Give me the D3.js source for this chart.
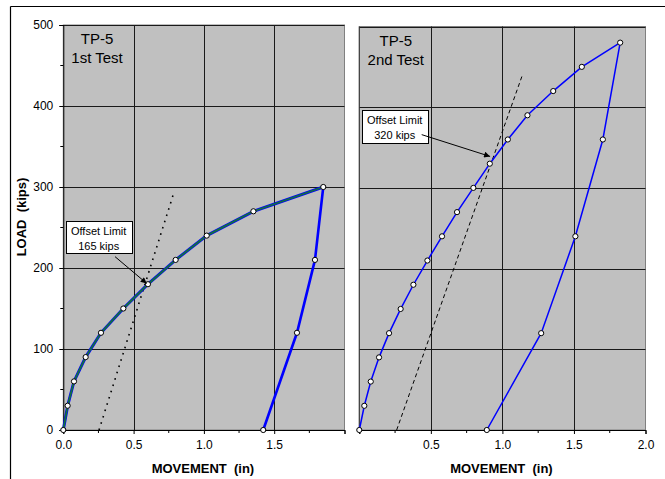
<!DOCTYPE html>
<html><head><meta charset="utf-8">
<script src="https://cdn.jsdelivr.net/npm/d3@7"></script>
<style>
html,body{margin:0;padding:0;background:#fff;}
svg{display:block;font-family:"Liberation Sans",Arial,sans-serif;}
</style></head>
<body>
<svg id="c" width="665" height="479"></svg>
<script>
// ---- data ----
const xTickValues = [0, 0.5, 1.0, 1.5, 2.0];
const xMinorTicks = [0.25, 0.75, 1.25, 1.75];
const yTickValues = [0, 100, 200, 300, 400, 500];
const yMinorTicks = [50, 150, 250, 350, 450];
const leftXTickLabels = ["0.0", "0.5", "1.0", "1.5", ""];
const rightXTickLabels = ["", "0.5", "1.0", "1.5", "2.0"];

const test1LoadKips = [0, 30, 60, 90, 120, 150, 180, 210, 240, 270, 300];
const test1MoveIn   = [0, 0.031, 0.076, 0.159, 0.268, 0.427, 0.602, 0.799, 1.02, 1.352, 1.849];
const test1UnloadKips = [300, 210, 120, 0];
const test1UnloadIn   = [1.849, 1.79, 1.662, 1.422];
const test1OffsetIn   = [0.254, 0.79];
const test1OffsetKips = [0, 295];

const test2LoadKips = [0, 30, 60, 90, 120, 150, 180, 210, 240, 270, 300, 330, 360, 390, 420, 450, 480];
const test2MoveIn   = [0, 0.035, 0.08, 0.138, 0.208, 0.289, 0.378, 0.476, 0.578, 0.683, 0.797, 0.912, 1.038, 1.175, 1.355, 1.555, 1.823];
const test2UnloadKips = [480, 360, 240, 120, 0];
const test2UnloadIn   = [1.823, 1.702, 1.51, 1.271, 0.891];
const test2OffsetIn   = [0.261, 1.14];
const test2OffsetKips = [0, 440];

const panelTitles = [["TP-5", "1st Test"], ["TP-5", "2nd Test"]];
const offsetNotes = [["Offset Limit", "165 kips"], ["Offset Limit", "320 kips"]];

// ---- drawing ----
const svg = d3.select("#c");
const zip = (xs, ys) => xs.map((x, i) => [x, ys[i]]);

// outer frame (top and left edges visible)
svg.append("line").attr("x1", 10.5).attr("x2", 665).attr("y1", 6.5).attr("y2", 6.5).attr("stroke", "#000").attr("stroke-width", 1.2);
svg.append("line").attr("x1", 10.5).attr("x2", 10.5).attr("y1", 6.5).attr("y2", 479).attr("stroke", "#000").attr("stroke-width", 1.2);

const panels = [
  { x: d3.scaleLinear([0, 2], [63.3, 344.5]), y: d3.scaleLinear([0, 500], [430, 25]),
    load: zip(test1MoveIn, test1LoadKips), unload: zip(test1UnloadIn, test1UnloadKips),
    offset: zip(test1OffsetIn, test1OffsetKips), xLabels: leftXTickLabels, yLabels: true,
    title: panelTitles[0], note: offsetNotes[0], box: [0.017, 0.486, 257.5, 218],
    arrow: [[0.368, 214], [0.593, 181]], dash: "1.6,5", green: true, cx: 0.24 },
  { x: d3.scaleLinear([0, 2], [359.3, 645.5]), y: d3.scaleLinear([0, 500], [430, 26.5]),
    load: zip(test2MoveIn, test2LoadKips), unload: zip(test2UnloadIn, test2UnloadKips),
    offset: zip(test2OffsetIn, test2OffsetKips), xLabels: rightXTickLabels, yLabels: false,
    title: panelTitles[1], note: offsetNotes[1], box: [0.017, 0.478, 396.5, 356],
    arrow: [[0.436, 366], [0.914, 339]], dash: "4,3", green: false, cx: 0.255 }
];

const defs = svg.append("defs");
defs.append("marker").attr("id", "ah").attr("viewBox", "0 0 10 10").attr("refX", 10).attr("refY", 5)
  .attr("markerWidth", 7).attr("markerHeight", 6).attr("orient", "auto").attr("markerUnits", "userSpaceOnUse")
  .append("path").attr("d", "M0,0 L10,5 L0,10 z").attr("fill", "#000");

panels.forEach((p, pi) => {
  const g = svg.append("g");
  const [x0, x1] = p.x.range();
  const [yb, yt] = p.y.range();
  g.append("rect").attr("x", x0).attr("y", yt).attr("width", x1 - x0).attr("height", yb - yt)
    .attr("fill", "#c0c0c0").attr("stroke", "#808080").attr("stroke-width", 1);

  // grid
  g.selectAll(".gx").data(xTickValues.slice(1, -1)).join("line")
    .attr("x1", d => Math.round(p.x(d)) + 0.5).attr("x2", d => Math.round(p.x(d)) + 0.5)
    .attr("y1", yt).attr("y2", yb).attr("stroke", "#1a1a1a").attr("stroke-width", 1);
  g.selectAll(".gy").data(yTickValues.slice(1)).join("line")
    .attr("y1", d => Math.round(p.y(d)) + 0.5).attr("y2", d => Math.round(p.y(d)) + 0.5)
    .attr("x1", x0).attr("x2", x1).attr("stroke", "#1a1a1a").attr("stroke-width", 1);

  // x axis
  const xa = d3.axisBottom(p.x).tickValues(xTickValues).tickSize(4).tickPadding(6)
    .tickFormat((d, i) => p.xLabels[i]);
  const xg = g.append("g").attr("transform", `translate(0,${yb})`).call(xa);
  xg.select(".domain").attr("stroke", "#000");
  xg.selectAll("text").attr("font-size", 12).attr("fill", "#000").attr("font-family", "Liberation Sans, Arial, sans-serif");
  g.selectAll(".mx").data(xMinorTicks).join("line")
    .attr("x1", d => p.x(d)).attr("x2", d => p.x(d)).attr("y1", yb).attr("y2", yb + 3).attr("stroke", "#000");

  if (p.yLabels) {
    const ya = d3.axisLeft(p.y).tickValues(yTickValues).tickSize(4).tickPadding(6).tickFormat(d3.format("d"));
    const yg = g.append("g").attr("transform", `translate(${x0},0)`).call(ya);
    yg.select(".domain").attr("stroke", "#000");
    yg.selectAll("text").attr("font-size", 12).attr("fill", "#000").attr("font-family", "Liberation Sans, Arial, sans-serif");
    g.selectAll(".my").data(yMinorTicks).join("line")
      .attr("y1", d => p.y(d)).attr("y2", d => p.y(d)).attr("x1", x0 - 3).attr("x2", x0).attr("stroke", "#000");
  } else {
    g.append("line").attr("x1", x0).attr("x2", x0).attr("y1", yt).attr("y2", yb).attr("stroke", "#333");
  }

  // x axis title
  g.append("text").attr("x", (x0 + x1) / 2 - 1).attr("y", 473).attr("text-anchor", "middle")
    .attr("font-size", 13).attr("font-weight", "bold").style("white-space", "pre").text("MOVEMENT  (in)");

  // panel title
  g.selectAll(".tt").data(p.title).join("text")
    .attr("x", p.x(p.cx)).attr("y", (d, i) => yt + 19 + i * 19).attr("text-anchor", "middle")
    .attr("font-size", 15).attr("fill", "#000").text(d => d);

  // offset line
  const line = d3.line().x(d => p.x(d[0])).y(d => p.y(d[1]));
  g.append("path").attr("d", line(p.offset)).attr("fill", "none").attr("stroke", "#000")
    .attr("stroke-width", p.green ? 1.6 : 1).attr("stroke-dasharray", p.dash);

  // load curve
  if (p.green) {
    g.append("path").attr("d", line(p.unload)).attr("fill", "none").attr("stroke", "#0000ff").attr("stroke-width", 2.6);
    g.append("path").attr("d", line(p.load)).attr("fill", "none").attr("stroke", "#0000ff").attr("stroke-width", 3);
    g.append("path").attr("d", line(p.load)).attr("fill", "none").attr("stroke", "#107040").attr("stroke-width", 1.8);
  } else {
    g.append("path").attr("d", line(p.load)).attr("fill", "none").attr("stroke", "#0000ff").attr("stroke-width", 1.5);
    g.append("path").attr("d", line(p.unload)).attr("fill", "none").attr("stroke", "#0000ff").attr("stroke-width", 1.5);
  }
  const pts = p.load.concat(p.unload.slice(1));
  g.selectAll(".pt").data(pts).join("circle")
    .attr("cx", d => p.x(d[0])).attr("cy", d => p.y(d[1])).attr("r", 2.6)
    .attr("fill", "#fff").attr("stroke", "#000").attr("stroke-width", 1);

  // annotation box
  const [bx0, bx1, by0, by1] = p.box;
  g.append("rect").attr("x", Math.round(p.x(bx0)) + 0.5).attr("y", Math.round(p.y(by0)) + 0.5)
    .attr("width", Math.round(p.x(bx1) - p.x(bx0))).attr("height", Math.round(p.y(by1) - p.y(by0)))
    .attr("fill", "#fff").attr("stroke", "#000").attr("stroke-width", 1);
  g.selectAll(".nt").data(p.note).join("text")
    .attr("x", (p.x(bx0) + p.x(bx1)) / 2).attr("y", (d, i) => p.y(by0) + 14 + i * 15)
    .attr("text-anchor", "middle").attr("font-size", 11).attr("fill", "#000").text(d => d);
  g.append("line").attr("x1", p.x(p.arrow[0][0])).attr("y1", p.y(p.arrow[0][1]))
    .attr("x2", p.x(p.arrow[1][0])).attr("y2", p.y(p.arrow[1][1]))
    .attr("stroke", "#000").attr("stroke-width", 1).attr("marker-end", "url(#ah)");
});

// y axis title
svg.append("text").attr("transform", "translate(26,217) rotate(-90)").attr("text-anchor", "middle")
  .attr("font-size", 13).attr("font-weight", "bold").style("white-space", "pre").text("LOAD  (kips)");
</script>
</body></html>
